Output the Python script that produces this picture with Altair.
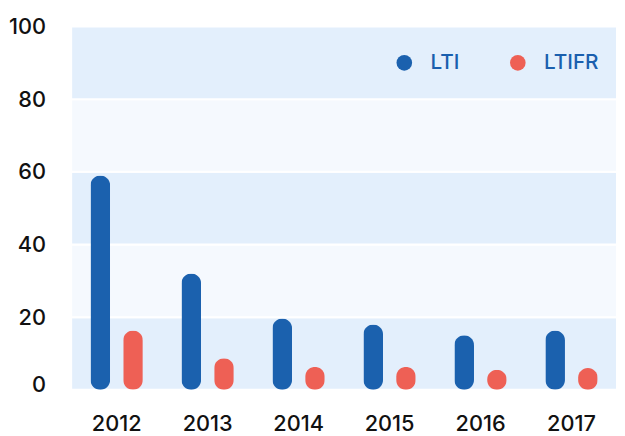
import altair as alt
import pandas as pd

years = ["2012", "2013", "2014", "2015", "2016", "2017"]
lti = [59, 32, 19.6, 18, 15, 16.3]
ltifr = [16.3, 8.7, 6.3, 6.3, 5.5, 6]
series = ["LTI", "LTIFR"]
series_colors = ["#1b61ae", "#ee6055"]

band_lo = [0, 20, 40, 60, 80]
band_hi = [20, 40, 60, 80, 100]
band_shade = ["dark", "light", "dark", "light", "dark"]
shade_colors = ["#e3effc", "#f5f9fe"]

y_ticks = [0, 20, 40, 60, 80, 100]

rows = []
for i, yr in enumerate(years):
    rows.append({"year": yr, "series": "LTI", "value": lti[i]})
    rows.append({"year": yr, "series": "LTIFR", "value": ltifr[i]})
df = pd.DataFrame(rows)

bands = pd.DataFrame({"lo": band_lo, "hi": band_hi, "shade": band_shade})

FONT = "Inter"

band_layer = alt.Chart(bands).mark_rect(stroke="white", strokeWidth=2).encode(
    y=alt.Y("lo:Q", scale=alt.Scale(domain=[0, 100], nice=False)),
    y2="hi:Q",
    color=alt.Color("shade:N", scale=alt.Scale(domain=["dark", "light"], range=shade_colors), legend=None),
)

bar_layer = alt.Chart(df).mark_bar(cornerRadius=10).encode(
    x=alt.X("year:N", sort=years, title=None,
            scale=alt.Scale(paddingInner=0, paddingOuter=0),
            axis=alt.Axis(labelAngle=0, domain=False, ticks=False, tickSize=0,
                          labelFont=FONT, labelFontSize=22, labelFontWeight=500,
                          labelColor="#111111", labelPadding=24)),
    xOffset=alt.XOffset("series:N", sort=series,
                        scale=alt.Scale(paddingInner=0.4, paddingOuter=0.59)),
    y=alt.Y("value:Q", title=None,
            scale=alt.Scale(domain=[0, 100], nice=False),
            axis=alt.Axis(values=y_ticks, grid=False, domain=False, ticks=False, tickSize=0,
                          labelFont=FONT, labelFontSize=22, labelFontWeight=500,
                          labelColor="#111111", labelPadding=26,
                          labelOffset=alt.condition("datum.value == 0", alt.value(-5), alt.value(0)))),
    color=alt.Color("series:N", sort=series,
                    scale=alt.Scale(domain=series, range=series_colors),
                    legend=alt.Legend(title=None, orient="none", legendX=327, legendY=26,
                                      direction="horizontal", symbolType="circle",
                                      symbolSize=250, symbolStrokeWidth=0,
                                      labelFont=FONT, labelFontSize=21, labelFontWeight=500,
                                      labelColor="#1a5fae", labelOffset=16,
                                      columnPadding=48, padding=0)),
)

chart = alt.layer(band_layer, bar_layer).resolve_scale(color="independent").properties(
    width=553,
    height=368,
    autosize=alt.AutoSizeParams(type="none"),
    padding={"left": 64, "top": 16, "right": 0, "bottom": 44},
).configure_view(stroke=None)

chart.save("out.html", embed_options={"renderer": "svg", "actions": False})
